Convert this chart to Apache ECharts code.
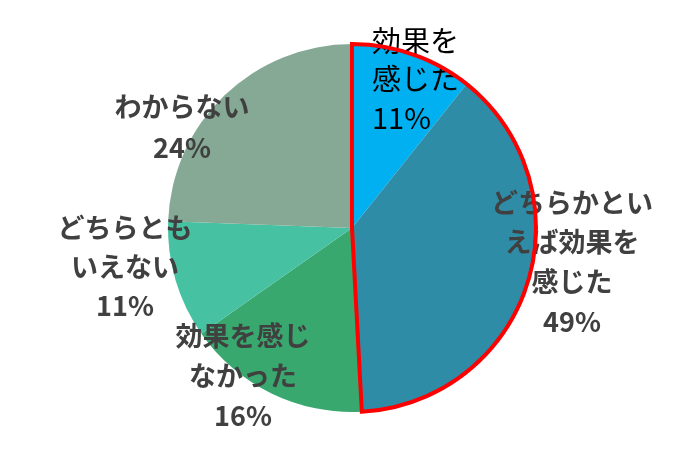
<!DOCTYPE html>
<html><head><meta charset="utf-8">
<script src="https://cdn.jsdelivr.net/npm/echarts@6/dist/echarts.min.js"></script>
<style>html,body{margin:0;padding:0;background:#fff}#c{width:700px;height:457px}</style>
</head><body><div id="c"></div>
<script>
// Data
var categories = ['効果を\n感じた', 'どちらかとい\nえば効果を\n感じた', '効果を感じ\nなかった', 'どちらとも\nいえない', 'わからない'];
var values = [10.7, 38.4, 16.1, 10.3, 24.4];
var percentLabels = ['11%', '49%', '16%', '11%', '24%'];
var highlightedCount = 2; // first two slices outlined in red

var colors = ['#00B0F0', '#2F8CA7', '#38A86F', '#46C2A2', '#85A995'];
// label anchor points (layout, not data)
var labelPos = [
  {x: 372, y: 79, align: 'left'},
  {x: 572, y: 262, align: 'center'},
  {x: 243, y: 376, align: 'center'},
  {x: 125, y: 267, align: 'center'},
  {x: 182, y: 127, align: 'center'}
];
var lineHeights = [38.5, 39.7, 40, 39, 41];

var font = '"Noto Sans CJK JP", "Noto Sans CJK SC", sans-serif';
var pieData = categories.map(function (c, i) {
  return {
    name: c,
    value: values[i],
    itemStyle: {color: colors[i]},
    label: i === 0 ? {
      color: '#000', fontWeight: 'normal', fontSize: 29, lineHeight: lineHeights[i], align: 'left'
    } : {
      color: '#404040', fontWeight: 'bold', fontSize: 27, lineHeight: lineHeights[i], align: 'center'
    }
  };
});

var hiSum = 0, restSum = 0;
values.forEach(function (v, i) { if (i < highlightedCount) hiSum += v; else restSum += v; });

var chart = echarts.init(document.getElementById('c'), null, {renderer: 'canvas'});
chart.setOption({
  animation: false,
  series: [{
    type: 'pie',
    center: [352, 228],
    radius: [0, 184],
    startAngle: 90,
    clockwise: true,
    data: pieData,
    itemStyle: {borderWidth: 0},
    label: {
      show: true,
      position: 'inside',
      fontFamily: font,
      formatter: function (p) { return p.name + '\n' + percentLabels[p.dataIndex]; }
    },
    labelLine: {show: false},
    labelLayout: function (p) {
      var lp = labelPos[p.dataIndex];
      return {x: lp.x, y: lp.y, align: lp.align, verticalAlign: 'middle', hideOverlap: false};
    },
    emphasis: {disabled: true}
  }, {
    type: 'pie',
    center: [352, 228],
    radius: [0, 184],
    startAngle: 90,
    clockwise: true,
    silent: true,
    z: 5,
    data: [
      {value: hiSum, itemStyle: {color: 'rgba(0,0,0,0)', borderColor: '#FF0000', borderWidth: 4, borderJoin: 'miter'}},
      {value: restSum, itemStyle: {color: 'rgba(0,0,0,0)', borderWidth: 0}}
    ],
    label: {show: false},
    labelLine: {show: false},
    emphasis: {disabled: true}
  }]
});
</script>
</body></html>
